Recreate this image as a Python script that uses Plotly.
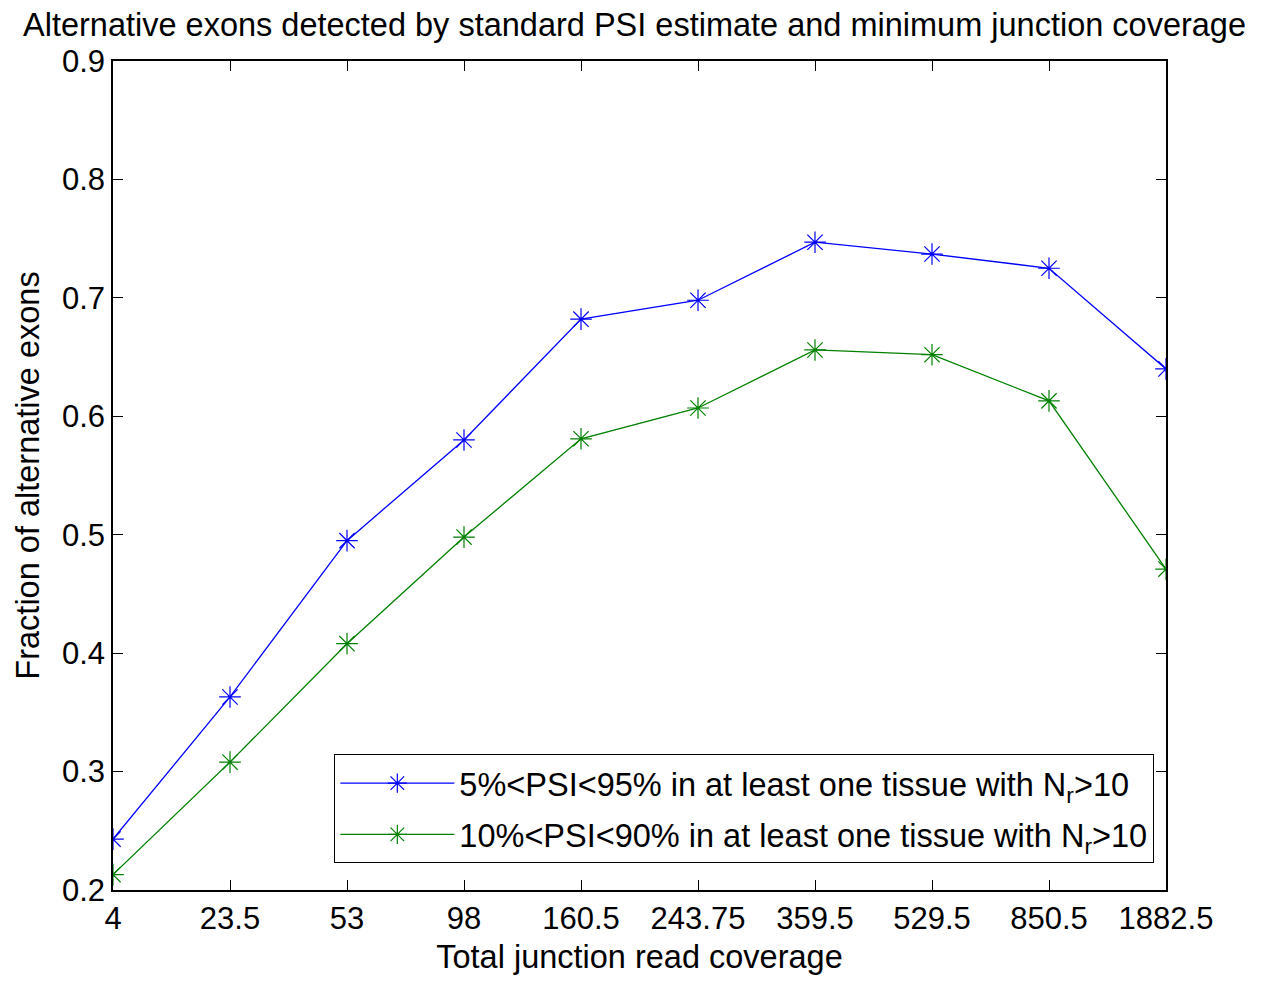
import plotly.graph_objects as go

coverage = ["4", "23.5", "53", "98", "160.5", "243.75", "359.5", "529.5", "850.5", "1882.5"]
psi_5_95 = [0.243, 0.363, 0.495, 0.580, 0.682, 0.698, 0.747, 0.737, 0.725, 0.640]
psi_10_90 = [0.213, 0.308, 0.408, 0.498, 0.581, 0.607, 0.656, 0.652, 0.613, 0.471]
y_ticks = [0.2, 0.3, 0.4, 0.5, 0.6, 0.7, 0.8, 0.9]

FONT = "Liberation Sans, Arial, sans-serif"
FS = 31
FT = 32.5

fig = go.Figure()
fig.add_trace(go.Scatter(
    x=coverage, y=psi_5_95, mode="lines+markers",
    name="5%<PSI<95% in at least one tissue with N<sub>r</sub>>10",
    line=dict(color="#0000ff", width=1.3),
    marker=dict(symbol="asterisk-open", size=18, color="#0000ff", line=dict(color="#0000ff", width=1.2)),
    legendgroup="a",
))
fig.add_trace(go.Scatter(
    x=coverage, y=psi_10_90, mode="lines+markers",
    name="10%<PSI<90% in at least one tissue with N<sub>r</sub>>10",
    line=dict(color="#008000", width=1.3),
    marker=dict(symbol="asterisk-open", size=18, color="#008000", line=dict(color="#008000", width=1.2)),
    legendgroup="b",
))

fig.update_layout(
    width=1269, height=981,
    margin=dict(l=113, r=103, t=61, b=89),
    paper_bgcolor="white", plot_bgcolor="white",
    font=dict(family=FONT, size=FS, color="black"),
    title=dict(text="Alternative exons detected by standard PSI estimate and minimum junction coverage",
               x=0.5, xanchor="center", y=0.975, yanchor="middle",
               font=dict(size=FT, family=FONT, color="black")),
    showlegend=True,
    legend=dict(x=0.21, y=0.1637, xanchor="left", yanchor="top",
                bordercolor="black", borderwidth=1.2, bgcolor="white",
                font=dict(size=FT, family=FONT), tracegroupgap=6,
                itemwidth=114),
    xaxis=dict(type="category", range=[0, 9], showgrid=False, zeroline=False,
               showline=True, linecolor="black", linewidth=1.5, mirror="ticks",
               ticks="inside", ticklen=10, tickcolor="black", tickwidth=1.2,
               title=dict(text="Total junction read coverage", standoff=10, font=dict(size=FT)),
               tickfont=dict(size=FS)),
    yaxis=dict(range=[0.2, 0.9], tickvals=y_ticks, tickformat=".1f",
               showgrid=False, zeroline=False,
               showline=True, linecolor="black", linewidth=1.5, mirror="ticks",
               ticks="inside", ticklen=10, tickcolor="black", tickwidth=1.2,
               title=dict(text="Fraction of alternative exons", standoff=13, font=dict(size=FT)),
               tickfont=dict(size=FS)),
)

fig.write_html("out.html")
